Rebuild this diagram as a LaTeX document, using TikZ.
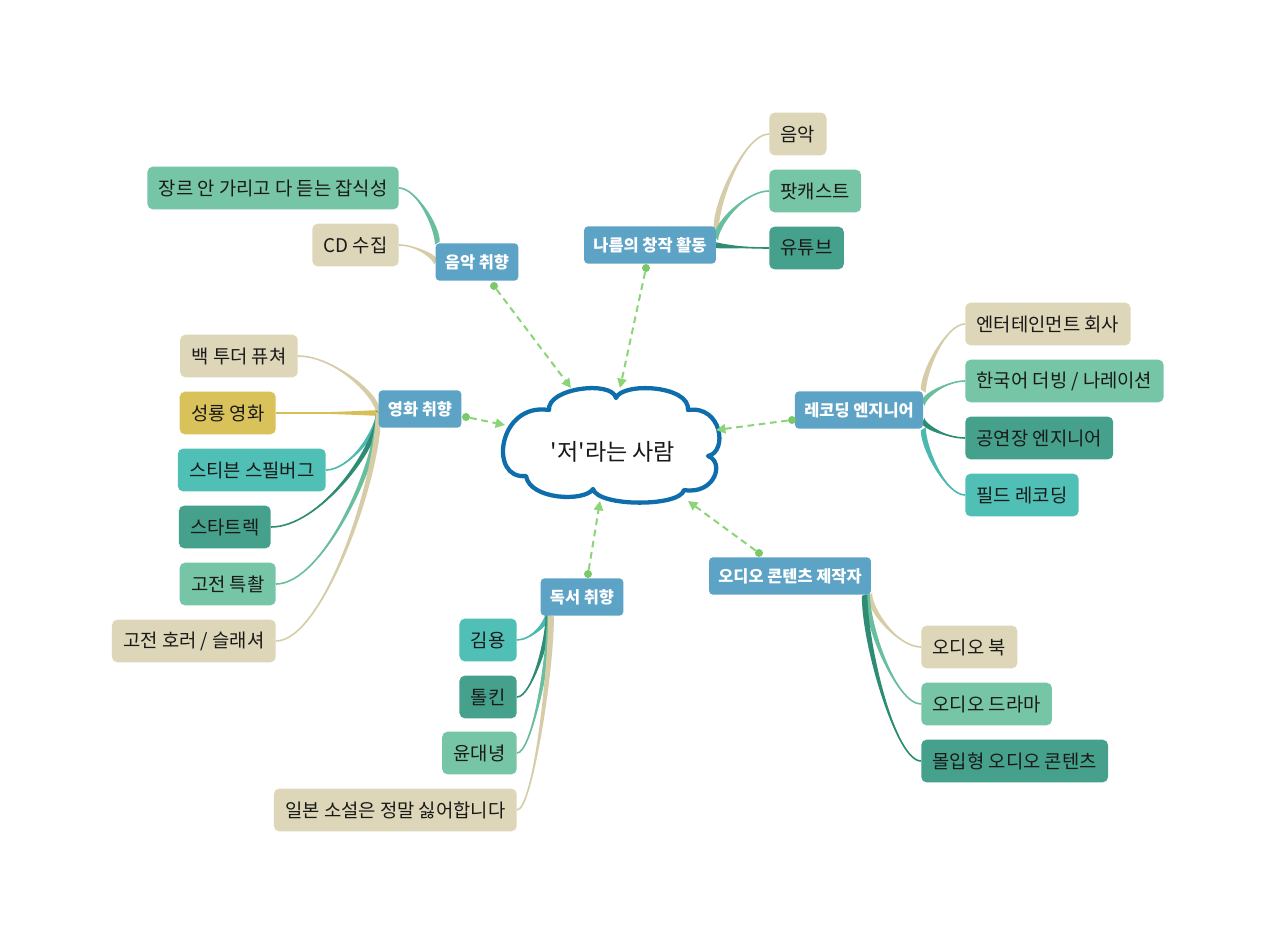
\documentclass[tikz,border=0pt]{standalone}
\usepackage{fontspec}
\newfontfamily\kr{Noto Sans CJK KR}
\usetikzlibrary{calc,arrows.meta}
\pgfdeclarelayer{bg}
\pgfsetlayers{bg,main}
\definecolor{mainblue}{RGB}{93,163,198}
\definecolor{beige}{RGB}{221,214,184}
\definecolor{mint}{RGB}{118,197,166}
\definecolor{dteal}{RGB}{69,161,139}
\definecolor{turq}{RGB}{80,191,181}
\definecolor{yell}{RGB}{217,194,90}
\definecolor{cloudblue}{RGB}{14,110,172}
\definecolor{dashgreen}{RGB}{140,212,120}
\definecolor{dotgreen}{RGB}{122,200,104}
\definecolor{lbeige}{RGB}{214,205,168}
\definecolor{lmint}{RGB}{105,190,157}
\definecolor{ldteal}{RGB}{45,140,115}
\definecolor{lturq}{RGB}{75,185,175}
\definecolor{lyell}{RGB}{215,190,85}
\newcommand\branch[3]{%
  \path (#1) coordinate (bp) (#2) coordinate (be);
  \path ($(be)!0.45!(be -| bp)$) coordinate (bca) ($(bp)!0.3!(bp |- be)$) coordinate (bcb);
  \path ($(bp)!2.2pt!90:(be)$) coordinate (bpa) ($(bp)!2.2pt!-90:(be)$) coordinate (bpb);
  \fill[#3] (bpa) .. controls ($(bcb)+(bpa)-(bp)$) and (bca) .. (be)
     .. controls (bca) and ($(bcb)+(bpb)-(bp)$) .. (bpb) -- cycle;
  \draw[#3, line width=1.2pt] (bp) .. controls (bcb) and (bca) .. (be);
}
\tikzset{
  mainnode/.style={fill=mainblue, text=white, font=\kr\bfseries\fontsize{12.3}{14}\selectfont,
    rounded corners=3pt, minimum height=28pt, inner xsep=7pt, inner ysep=0pt},
  leaf/.style={font=\kr\fontsize{14.1}{17}\selectfont, text=black!90, rounded corners=4pt,
    minimum height=32pt, inner xsep=8.5pt, inner ysep=0pt},
  dasharrow/.style={draw=dashgreen, line width=1.5pt, dash pattern=on 5pt off 3.5pt,
    -{Triangle[length=7pt,width=7pt]}},
  gdot/.style={circle, fill=dotgreen, inner sep=0pt, minimum size=6pt},
}
\begin{document}
\begin{tikzpicture}[x=0.75pt,y=-0.75pt]
\begin{pgfonlayer}{bg}
\fill[white] (0,0) rectangle (1280,949);
\end{pgfonlayer}
\useasboundingbox (0,0) rectangle (1280,949);

% main topic nodes
\node[mainnode] (music) at (477,262) {음악 취향};
\node[mainnode] (create) at (650,245) {나름의 창작 활동};
\node[mainnode] (film) at (420,409) {영화 취향};
\node[mainnode] (rec) at (859,410) {레코딩 엔지니어};
\node[mainnode] (book) at (582,597) {독서 취향};
\node[mainnode] (audio) at (790,576) {오디오 콘텐츠 제작자};

% leaves
\node[leaf, fill=mint, anchor=east] (m1) at (399,188) {장르 안 가리고 다 듣는 잡식성};
\node[leaf, fill=beige, anchor=east] (m2) at (399,245) {CD 수집};

\node[leaf, fill=beige, anchor=west] (c1) at (769,134) {음악};
\node[leaf, fill=mint, anchor=west] (c2) at (769,191) {팟캐스트};
\node[leaf, fill=dteal, anchor=west] (c3) at (769,248) {유튜브};

\node[leaf, fill=beige, anchor=east] (f1) at (298,356) {백 투더 퓨쳐};
\node[leaf, fill=yell, anchor=east] (f2) at (276,413) {성룡 영화};
\node[leaf, fill=turq, anchor=east] (f3) at (326,470) {스티븐 스필버그};
\node[leaf, fill=dteal, anchor=east] (f4) at (271,527) {스타트렉};
\node[leaf, fill=mint, anchor=east] (f5) at (276,584) {고전 특촬};
\node[leaf, fill=beige, anchor=east] (f6) at (276,641) {고전 호러 / 슬래셔};

\node[leaf, fill=beige, anchor=west] (r1) at (965,324) {엔터테인먼트 회사};
\node[leaf, fill=mint, anchor=west] (r2) at (965,381) {한국어 더빙 / 나레이션};
\node[leaf, fill=dteal, anchor=west] (r3) at (965,438) {공연장 엔지니어};
\node[leaf, fill=turq, anchor=west] (r4) at (965,495) {필드 레코딩};

\node[leaf, fill=turq, anchor=east] (b1) at (517,640) {김용};
\node[leaf, fill=dteal, anchor=east] (b2) at (517,697) {톨킨};
\node[leaf, fill=mint, anchor=east] (b3) at (517,753) {윤대녕};
\node[leaf, fill=beige, anchor=east] (b4) at (517,810) {일본 소설은 정말 싫어합니다};

\node[leaf, fill=beige, anchor=west] (a1) at (921,647) {오디오 북};
\node[leaf, fill=mint, anchor=west] (a2) at (921,704) {오디오 드라마};
\node[leaf, fill=dteal, anchor=west] (a3) at (921,761) {몰입형 오디오 콘텐츠};

% connectors (behind nodes)
\begin{pgfonlayer}{bg}
\branch{[xshift=1.5pt]music.north west}{m1.east}{lmint}
\branch{music.west}{m2.east}{lbeige}

\branch{[yshift=-2pt]create.north east}{c1.west}{lbeige}
\branch{[yshift=5pt]create.east}{c2.west}{lmint}
\branch{create.east}{c3.west}{ldteal}

\branch{[yshift=-3pt]film.west}{f1.east}{lbeige}
\branch{[yshift=-3pt]film.west}{f2.east}{lyell}
\branch{[yshift=-3pt]film.west}{f3.east}{lturq}
\branch{[yshift=-3pt]film.west}{f4.east}{ldteal}
\branch{[yshift=-3pt]film.west}{f5.east}{lmint}
\branch{[yshift=-3pt]film.west}{f6.east}{lbeige}

\branch{rec.north east}{r1.west}{lbeige}
\branch{[yshift=5pt]rec.east}{r2.west}{lmint}
\branch{[yshift=-8pt]rec.east}{r3.west}{ldteal}
\branch{rec.south east}{r4.west}{lturq}

\branch{[xshift=5pt]book.south west}{b1.east}{lturq}
\branch{[xshift=6pt]book.south west}{b2.east}{ldteal}
\branch{[xshift=7pt]book.south west}{b3.east}{lmint}
\branch{[xshift=8pt]book.south west}{b4.east}{lbeige}

\branch{[xshift=-1pt]audio.south east}{a1.west}{lbeige}
\branch{[xshift=-3pt]audio.south east}{a2.west}{lmint}
\branch{[xshift=-5pt]audio.south east}{a3.west}{ldteal}
\end{pgfonlayer}

% cloud
\draw[cloudblue, line width=3.2pt, fill=white, line join=round]
  (526,476) .. controls (488,480) and (498,402) .. (549,410)
  .. controls (547,388) and (612,380) .. (616,398)
  .. controls (622,382) and (690,385) .. (688,410)
  .. controls (722,405) and (728,452) .. (708,456)
  .. controls (725,462) and (715,495) .. (684,490)
  .. controls (680,507) and (598,507) .. (593,489)
  .. controls (585,502) and (530,500) .. (526,476) -- cycle;
\node[font=\kr\fontsize{17.3}{20}\selectfont, text=black!90] (root) at (613,452) {'저'라는 사람};

% dashed arrows to the root
\node[gdot] (d1) at (494,286) {};
\node[gdot] (d2) at (646,268) {};
\node[gdot] (d3) at (466,417) {};
\node[gdot] (d4) at (792,420) {};
\node[gdot] (d5) at (588,574) {};
\node[gdot] (d6) at (759,553) {};
\coordinate (t1) at (571,388);
\coordinate (t2) at (620,388);
\coordinate (t3) at (505,425);
\coordinate (t4) at (716,430);
\coordinate (t5) at (600,501);
\coordinate (t6) at (688,501);
\draw[dasharrow] (d1) -- (t1);
\draw[dasharrow] (d2) -- (t2);
\draw[dasharrow] (d3) -- (t3);
\draw[dasharrow] (d4) -- (t4);
\draw[dasharrow] (d5) -- (t5);
\draw[dasharrow] (d6) -- (t6);
\end{tikzpicture}
\end{document}
